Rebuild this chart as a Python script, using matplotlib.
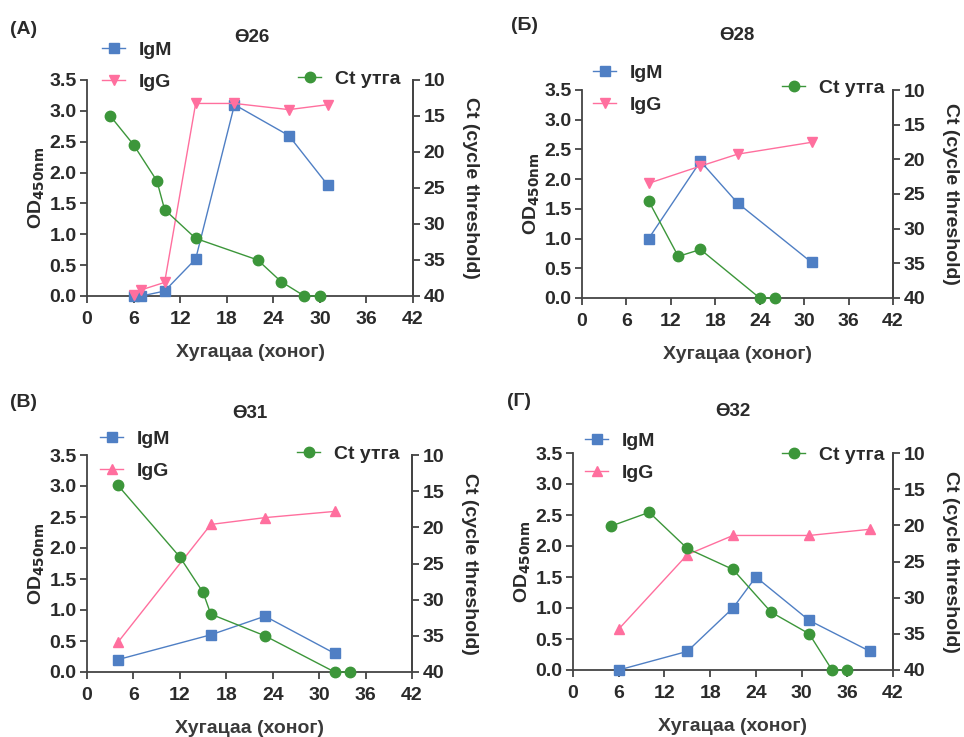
import matplotlib
matplotlib.use("Agg")
import matplotlib.pyplot as plt
from matplotlib.ticker import FormatStrFormatter

plt.rcParams['font.family'] = ['Liberation Sans', 'DejaVu Sans']
plt.rcParams['font.weight'] = 'bold'
plt.rcParams['axes.labelweight'] = 'bold'
plt.rcParams['mathtext.default'] = 'bf'

# өгөгдөл (зургаас уншсан утгууд)
panel_letters = ['(A)', '(Б)', '(В)', '(Г)']
panel_titles = ['Ө26', 'Ө28', 'Ө31', 'Ө32']
igg_markers = ['v', 'v', '^', '^']

# Ө26
a_igm_x = [6, 7, 10, 14, 19, 26, 31]
a_igm_y = [0.0, 0.0, 0.08, 0.6, 3.1, 2.6, 1.8]
a_igg_x = [6, 7, 10, 14, 19, 26, 31]
a_igg_y = [0.02, 0.1, 0.22, 3.12, 3.12, 3.02, 3.1]
a_ct_x = [3, 6, 9, 10, 14, 22, 25, 28, 30]
a_ct_y = [15, 19, 24, 28, 32, 35, 38, 40, 40]

# Ө28
b_igm_x = [9, 16, 21, 31]
b_igm_y = [1.0, 2.3, 1.6, 0.6]
b_igg_x = [9, 16, 21, 31]
b_igg_y = [1.93, 2.22, 2.42, 2.62]
b_ct_x = [9, 13, 16, 24, 26]
b_ct_y = [26, 34, 33, 40, 40]

# Ө31
c_igm_x = [4, 16, 23, 32]
c_igm_y = [0.2, 0.6, 0.9, 0.3]
c_igg_x = [4, 16, 23, 32]
c_igg_y = [0.48, 2.38, 2.49, 2.59]
c_ct_x = [4, 12, 15, 16, 23, 32, 34]
c_ct_y = [14.2, 24.1, 29, 32, 35, 40, 40]

# Ө32
d_igm_x = [6, 15, 21, 24, 31, 39]
d_igm_y = [0.0, 0.3, 1.0, 1.5, 0.8, 0.3]
d_igg_x = [6, 15, 21, 31, 39]
d_igg_y = [0.66, 1.86, 2.17, 2.17, 2.27]
d_ct_x = [5, 10, 15, 21, 26, 31, 34, 36]
d_ct_y = [20.1, 18.2, 23.2, 26.1, 32, 35, 40, 40]

data = [
    (a_igm_x, a_igm_y, a_igg_x, a_igg_y, a_ct_x, a_ct_y),
    (b_igm_x, b_igm_y, b_igg_x, b_igg_y, b_ct_x, b_ct_y),
    (c_igm_x, c_igm_y, c_igg_x, c_igg_y, c_ct_x, c_ct_y),
    (d_igm_x, d_igm_y, d_igg_x, d_igg_y, d_ct_x, d_ct_y),
]

W, H = 964, 737
BLUE = '#4f7fc4'
PINK = '#ff6f9e'
GREEN = '#3c963a'
TXT = '#2a2a2a'

# тэнхлэгийн байрлал (пиксел): зүүн, баруун, дээд, доод
boxes = [(87, 413, 80, 296), (582, 893, 90, 298),
         (87, 412, 455, 672), (573, 893, 453, 670)]
# гарчиг, үсэг, легендийн байрлал (пиксел)
title_pos = [(252, 38), (737, 35), (250, 413), (733, 412)]
letter_pos = [(10, 29), (511, 25), (10, 403), (507, 402)]
leg1_pos = [(102, 66), (593, 89), (100, 455), (585, 457)]
leg2_pos = [(298, 79), (782, 88), (297, 454), (782, 455)]


def fx(px):
    return px / W


def fy(py):
    return 1 - py / H


fig = plt.figure(figsize=(W / 100, H / 100), dpi=100)

for i in range(4):
    l, r, t, b = boxes[i]
    ax = fig.add_axes([fx(l), fy(b), fx(r) - fx(l), fy(t) - fy(b)])
    ax2 = ax.twinx()
    igm_x, igm_y, igg_x, igg_y, ct_x, ct_y = data[i]

    h1, = ax.plot(igm_x, igm_y, color=BLUE, marker='s', ms=7, lw=1.0, clip_on=False, zorder=3)
    h2, = ax.plot(igg_x, igg_y, color=PINK, marker=igg_markers[i], ms=7, lw=1.0, clip_on=False, zorder=3)
    h3, = ax2.plot(ct_x, ct_y, color=GREEN, marker='o', ms=7.5, lw=1.0, clip_on=False, zorder=3)

    ax.set_xlim(0, 42)
    ax.set_ylim(0, 3.5)
    ax.set_xticks(range(0, 43, 6))
    ax.set_yticks([0, 0.5, 1.0, 1.5, 2.0, 2.5, 3.0, 3.5])
    ax.yaxis.set_major_formatter(FormatStrFormatter('%.1f'))
    ax2.set_ylim(40, 10)
    ax2.set_yticks([10, 15, 20, 25, 30, 35, 40])

    for a in (ax, ax2):
        a.spines['top'].set_visible(False)
        for s in a.spines.values():
            s.set_color('#444444')
            s.set_linewidth(1.3)
        a.tick_params(direction='out', length=5, width=1.3, color='#444444',
                      labelsize=14, labelcolor=TXT, pad=2.5)
    ax.tick_params(axis='x', pad=6)
    ax2.spines['left'].set_visible(False)
    ax2.spines['bottom'].set_visible(False)

    ax.set_xlabel('Хугацаа (хоног)', fontsize=14, color='#3a3a3a', labelpad=11)
    ax.set_ylabel('OD$_{450nm}$', fontsize=14, color=TXT, labelpad=2)
    ax2.set_ylabel('Ct (cycle threshold)', fontsize=14, color=TXT, rotation=-90, labelpad=24)

    fig.legend([h1, h2], ['IgM', 'IgG'], loc='center left',
               bbox_to_anchor=(fx(leg1_pos[i][0]), fy(leg1_pos[i][1])),
               frameon=False, fontsize=14, handlelength=1.2, handletextpad=0.7,
               labelspacing=0.75, borderpad=0, borderaxespad=0, labelcolor=TXT)
    fig.legend([h3], ['Ct утга'], loc='center left',
               bbox_to_anchor=(fx(leg2_pos[i][0]), fy(leg2_pos[i][1])),
               frameon=False, fontsize=14, handlelength=1.2, handletextpad=0.7,
               borderpad=0, borderaxespad=0, labelcolor=TXT)

    fig.text(fx(title_pos[i][0]), fy(title_pos[i][1]), panel_titles[i],
             ha='center', va='center', fontsize=13.5, color=TXT)
    fig.text(fx(letter_pos[i][0]), fy(letter_pos[i][1]), panel_letters[i],
             ha='left', va='center', fontsize=14, color=TXT)

fig.savefig('out.png', dpi=100)
